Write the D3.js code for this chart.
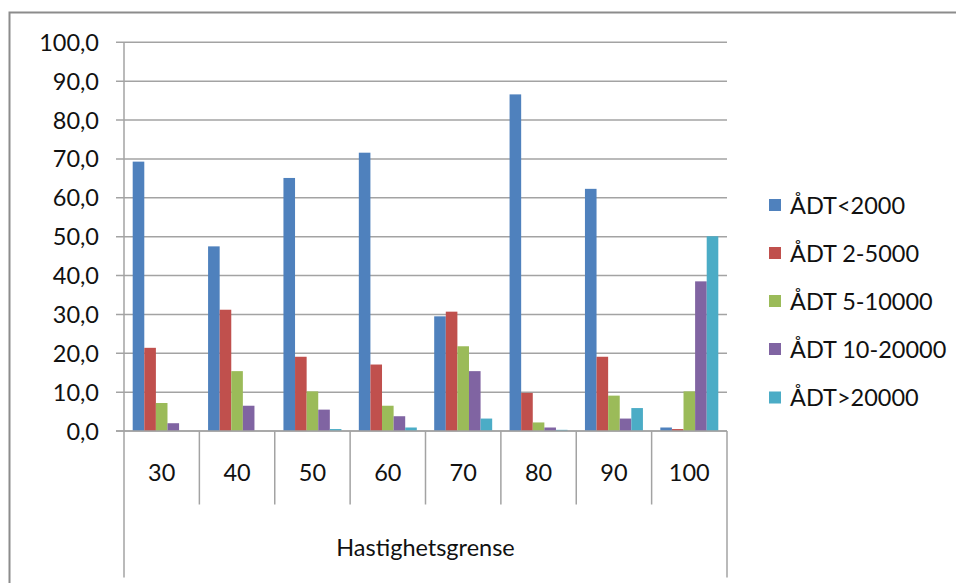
<!DOCTYPE html>
<html>
<head>
<meta charset="utf-8">
<script src="https://cdn.jsdelivr.net/npm/d3@7"></script>
<style>
  html, body { margin: 0; padding: 0; background: #fff; }
  svg { display: block; }
  text { font-family: Lato, "Open Sans", sans-serif; fill: #111; }
</style>
</head>
<body>
<svg id="chart" width="956" height="583"></svg>
<script>
const categories = ["30", "40", "50", "60", "70", "80", "90", "100"];
const seriesNames = ["ÅDT<2000", "ÅDT 2-5000", "ÅDT 5-10000", "ÅDT 10-20000", "ÅDT>20000"];
const seriesColors = ["#4F81BD", "#C0504D", "#9BBB59", "#8064A2", "#4BACC6"];
const adtUnder2000 = [69.3, 47.5, 65.1, 71.6, 29.5, 86.6, 62.3, 0.9];
const adt2to5000   = [21.4, 31.2, 19.1, 17.1, 30.7, 9.8, 19.1, 0.5];
const adt5to10000  = [7.2, 15.4, 10.2, 6.5, 21.8, 2.2, 9.1, 10.2];
const adt10to20000 = [2.0, 6.5, 5.5, 3.8, 15.4, 0.9, 3.2, 38.5];
const adtOver20000 = [0.0, 0.0, 0.5, 0.9, 3.2, 0.3, 5.9, 50.1];
const yTicks = [0, 10, 20, 30, 40, 50, 60, 70, 80, 90, 100];
const axisTitle = "Hastighetsgrense";

const seriesValues = [adtUnder2000, adt2to5000, adt5to10000, adt10to20000, adtOver20000];

const svg = d3.select("#chart");
const gridColor = "#a3a3a3";
const fontSize = 23.5;
const plotLeft = 124, plotRight = 727, plotTop = 42.3, plotBottom = 431;

// frame
svg.append("path")
  .attr("d", "M9.5,583 L9.5,12.5 L956,12.5")
  .attr("fill", "none").attr("stroke", "#8c8c8c").attr("stroke-width", 2);

const x0 = d3.scaleBand().domain(categories).range([plotLeft, plotRight]).paddingInner(0).paddingOuter(0);
const x1 = d3.scaleBand().domain(d3.range(seriesNames.length)).range([0, x0.bandwidth()])
  .paddingInner(0).paddingOuter(0.75);
const y = d3.scaleLinear().domain([0, 100]).range([plotBottom, plotTop]);

// gridlines
svg.append("g").selectAll("line").data(yTicks).join("line")
  .attr("x1", plotLeft - 8).attr("x2", plotRight)
  .attr("y1", d => y(d)).attr("y2", d => y(d))
  .attr("stroke", gridColor).attr("stroke-width", 1.5);

// y tick labels
const fmt = d => d3.format(".1f")(d).replace(".", ",");
svg.append("g").selectAll("text").data(yTicks).join("text")
  .attr("x", 99).attr("y", d => y(d) + 8.5)
  .attr("text-anchor", "end")
  .attr("font-size", fontSize)
  .text(fmt);

// bars
const groups = svg.append("g").selectAll("g").data(categories).join("g")
  .attr("transform", c => `translate(${x0(c)},0)`);
groups.selectAll("rect")
  .data((c, i) => seriesValues.map((vals, s) => ({ s, v: vals[i] })))
  .join("rect")
  .attr("x", d => x1(d.s))
  .attr("width", x1.bandwidth())
  .attr("y", d => y(d.v))
  .attr("height", d => y(0) - y(d.v))
  .attr("fill", d => seriesColors[d.s]);

// axis lines
svg.append("line").attr("x1", plotLeft).attr("x2", plotLeft).attr("y1", plotTop).attr("y2", 577.5)
  .attr("stroke", gridColor).attr("stroke-width", 1.5);
svg.append("line").attr("x1", plotRight).attr("x2", plotRight).attr("y1", plotBottom).attr("y2", 577.5)
  .attr("stroke", gridColor).attr("stroke-width", 1.5);
svg.append("line").attr("x1", plotLeft - 8).attr("x2", plotRight).attr("y1", plotBottom).attr("y2", plotBottom)
  .attr("stroke", gridColor).attr("stroke-width", 1.5);

// category separators
svg.append("g").selectAll("line").data(categories.slice(1)).join("line")
  .attr("x1", c => x0(c)).attr("x2", c => x0(c))
  .attr("y1", plotBottom).attr("y2", 504.5)
  .attr("stroke", gridColor).attr("stroke-width", 1.5);

// category labels
svg.append("g").selectAll("text").data(categories).join("text")
  .attr("x", c => x0(c) + x0.bandwidth() / 2)
  .attr("y", 481)
  .attr("text-anchor", "middle")
  .attr("font-size", fontSize)
  .text(c => c);

svg.append("text")
  .attr("x", (plotLeft + plotRight) / 2).attr("y", 556)
  .attr("text-anchor", "middle")
  .attr("font-size", fontSize)
  .text(axisTitle);

// legend
const legendY = [205, 253, 301, 349, 397.5];
const legend = svg.append("g").selectAll("g").data(seriesNames).join("g")
  .attr("transform", (d, i) => `translate(769,${legendY[i]})`);
legend.append("rect").attr("x", 0).attr("y", -6).attr("width", 12).attr("height", 12)
  .attr("fill", (d, i) => seriesColors[i]);
legend.append("text").attr("x", 21).attr("y", 8.5).attr("font-size", fontSize).text(d => d);
</script>
</body>
</html>
